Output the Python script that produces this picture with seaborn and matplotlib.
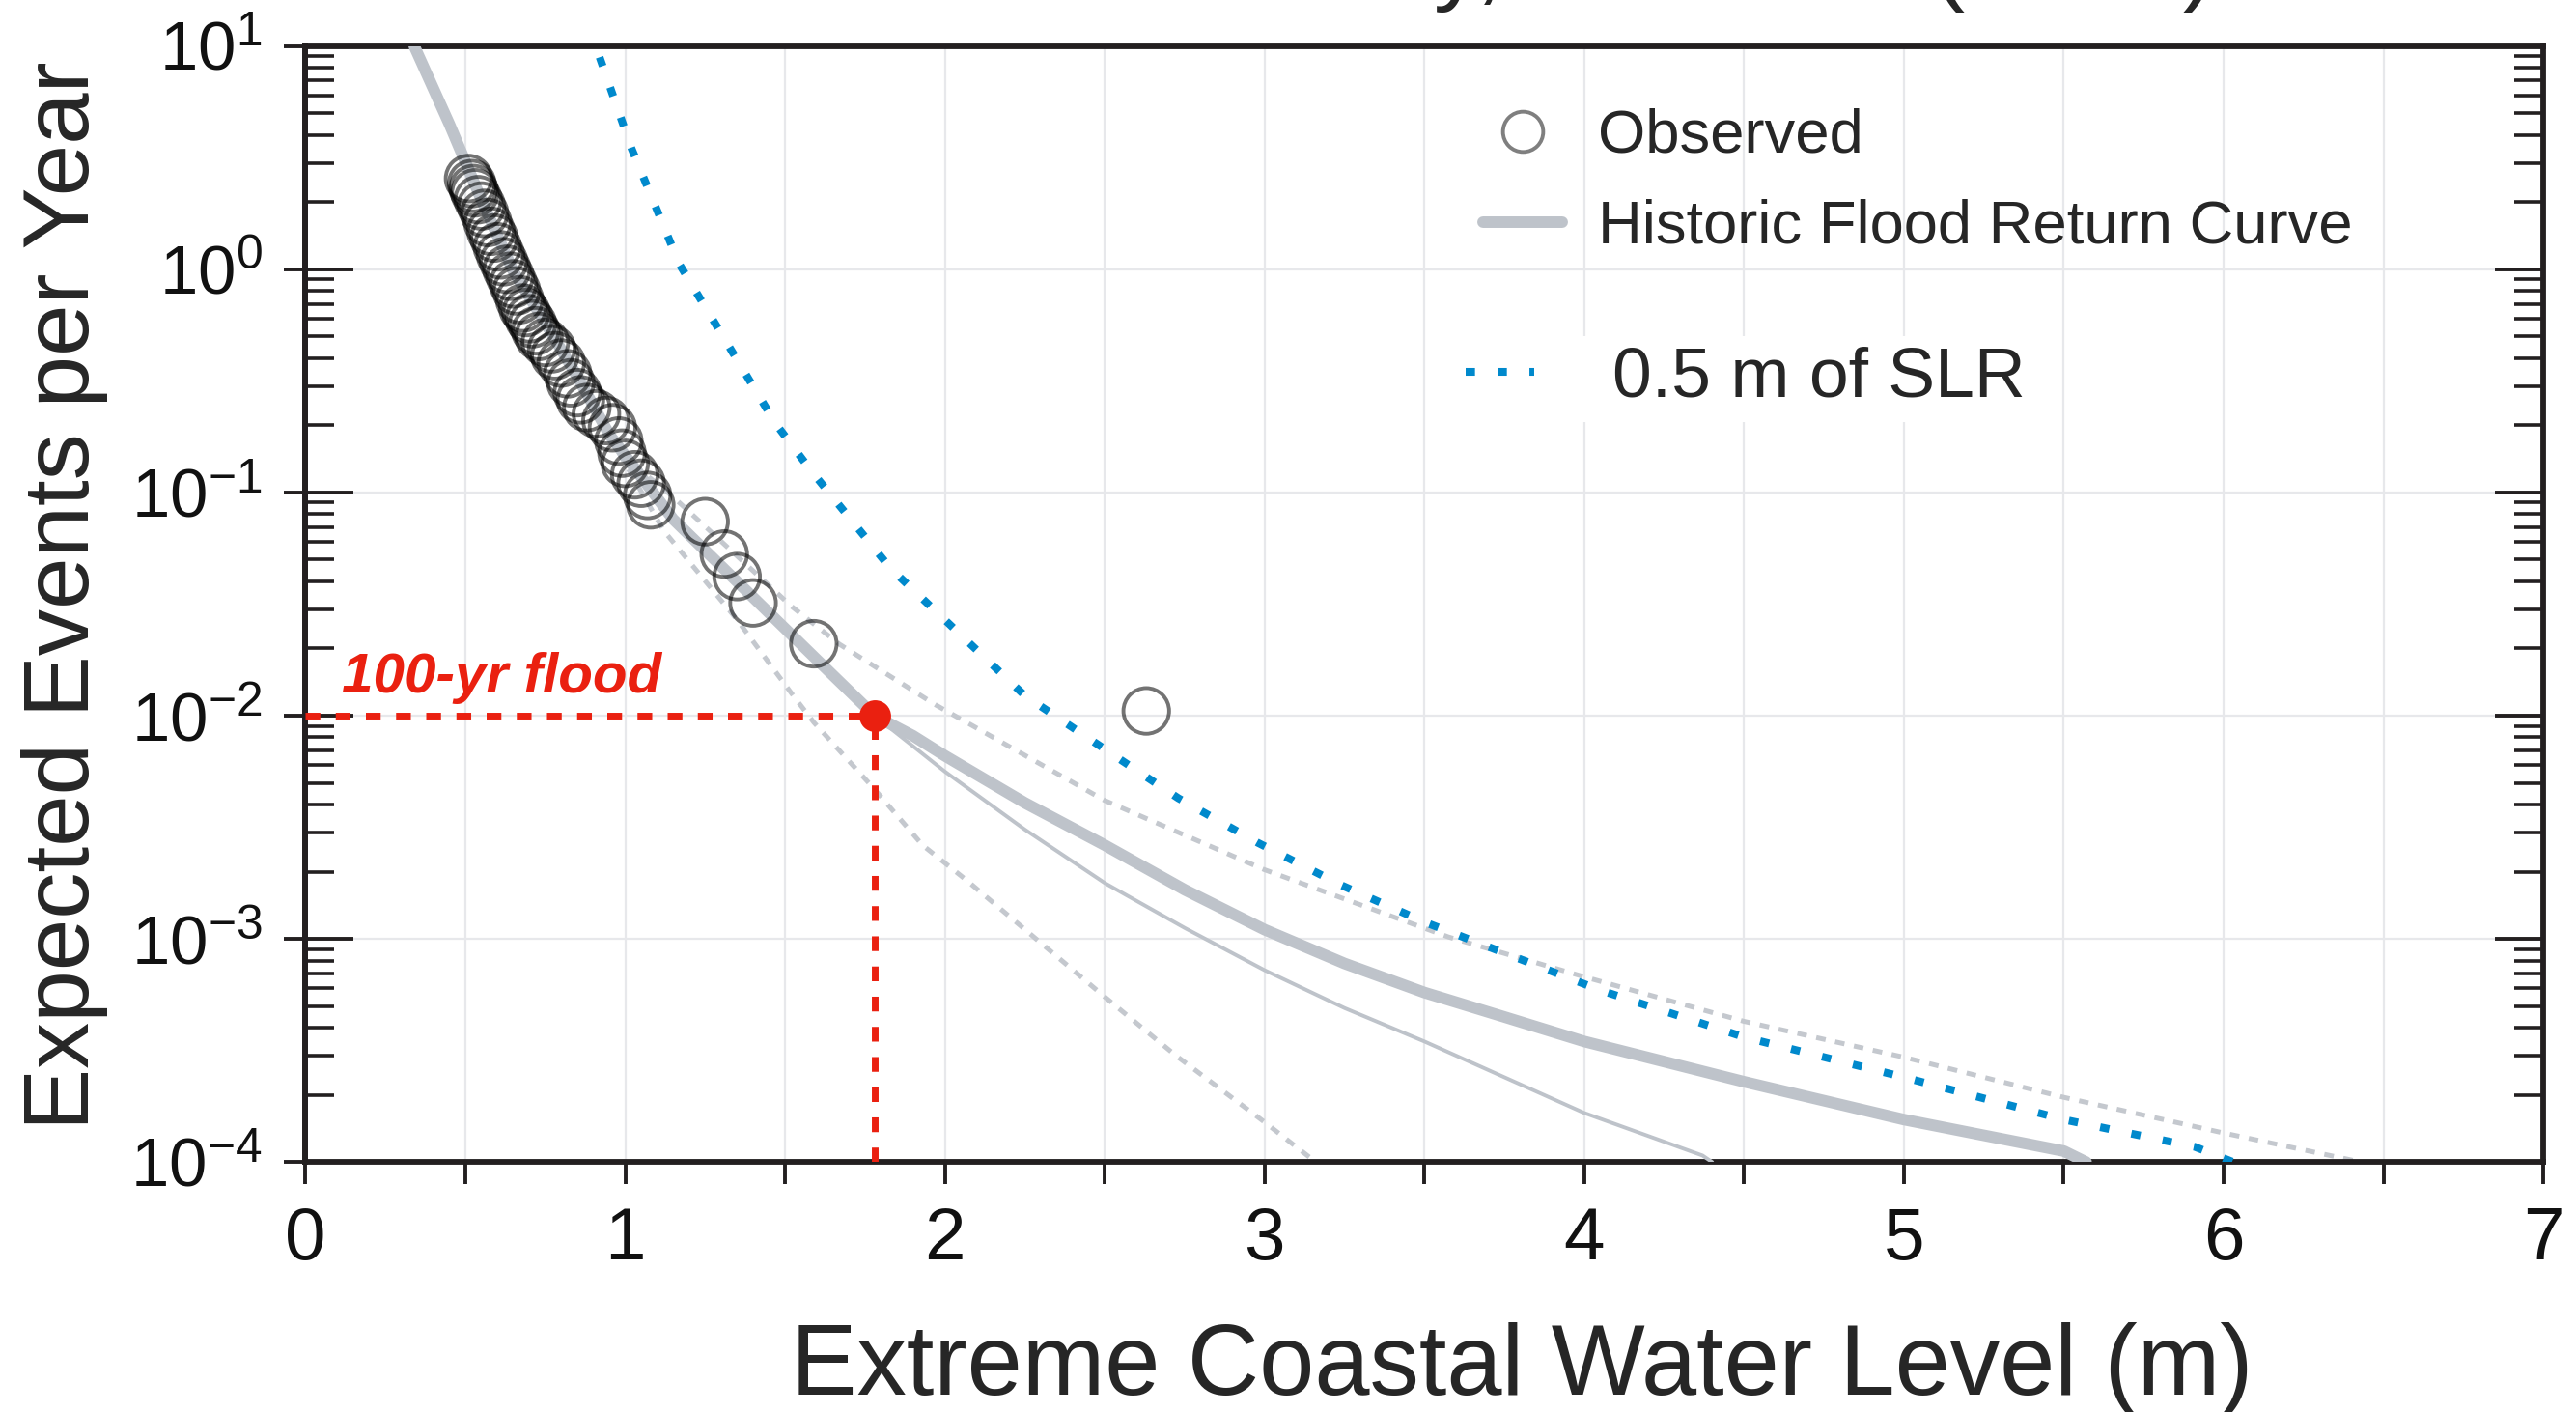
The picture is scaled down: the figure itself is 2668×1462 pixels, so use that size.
import numpy as np
import matplotlib
matplotlib.use("Agg")
import matplotlib.pyplot as plt
import seaborn as sns
from matplotlib.lines import Line2D
from matplotlib.ticker import FixedLocator, FuncFormatter, LogLocator, NullLocator

# observed extreme water levels (m) and their empirical frequency (events / yr)
obs_level = [0.51, 0.52, 0.525, 0.53, 0.54, 0.55, 0.56, 0.57, 0.58, 0.59,
             0.60, 0.61, 0.62, 0.63, 0.64, 0.65, 0.66, 0.67, 0.68, 0.69,
             0.70, 0.71, 0.72, 0.73, 0.75, 0.77, 0.78, 0.80, 0.82, 0.83,
             0.85, 0.86, 0.88, 0.91, 0.94, 0.96, 0.98, 0.99, 1.00, 1.03,
             1.05, 1.07, 1.08, 1.25, 1.31, 1.35, 1.40, 1.59, 2.63]
obs_freq = [2.55, 2.42, 2.30, 2.20, 2.05, 1.92, 1.78, 1.62, 1.48, 1.38,
            1.26, 1.16, 1.08, 1.00, 0.93, 0.86, 0.80, 0.73, 0.67, 0.64,
            0.60, 0.57, 0.53, 0.50, 0.47, 0.44, 0.41, 0.38, 0.34, 0.31,
            0.28, 0.26, 0.24, 0.225, 0.21, 0.195, 0.17, 0.15, 0.135, 0.12,
            0.11, 0.097, 0.088, 0.074, 0.053, 0.042, 0.032, 0.021, 0.0105]

# historic flood return curve (thick)
hist_level = [0.34, 0.45, 0.55, 0.65, 0.75, 0.85, 0.95, 1.05, 1.15, 1.25,
              1.40, 1.60, 1.78, 1.90, 2.00, 2.25, 2.50, 2.75, 3.00, 3.25,
              3.50, 3.75, 4.00, 4.50, 5.00, 5.50, 5.57]
hist_freq = [10.0, 4.47, 2.05, 0.98, 0.575, 0.331, 0.182, 0.1175, 0.0759, 0.055,
             0.0339, 0.0178, 0.010, 0.00813, 0.00661, 0.00407, 0.00263, 0.00166, 0.0011, 0.000776,
             0.000575, 0.000447, 0.000347, 0.000229, 0.000155, 0.000112, 0.0001]

# thin solid branch below the return curve
thin_level = [1.78, 2.00, 2.25, 2.50, 2.75, 3.00, 3.25, 3.50, 4.00, 4.37, 4.40]
thin_freq = [0.010, 0.00562, 0.00309, 0.00178, 0.00112, 0.000724, 0.00049, 0.000347,
             0.000166, 0.000107, 0.0001]

# upper / lower dashed bounds
upper_level = [0.98, 1.15, 1.52, 1.67, 1.97, 2.50, 3.00, 3.575, 4.00, 4.50, 5.00, 5.50, 6.00, 6.43]
upper_freq = [0.151, 0.0955, 0.0309, 0.0209, 0.0112, 0.00417, 0.00204, 0.00102, 0.000676,
              0.000427, 0.000295, 0.000195, 0.000135, 0.0001]
lower_level = [0.98, 1.12, 1.35, 1.52, 1.59, 1.78, 1.93, 2.07, 2.50, 2.72, 3.00, 3.16]
lower_freq = [0.151, 0.0676, 0.0269, 0.0126, 0.00933, 0.00468, 0.00263, 0.00182,
              0.00055, 0.000302, 0.000151, 0.0001]

# return curve with 0.5 m of sea level rise
slr_level = [0.92, 1.02, 1.17, 1.47, 1.58, 1.83, 1.97, 2.25, 2.49, 2.73,
             2.98, 3.24, 3.50, 3.78, 4.05, 4.50, 5.00, 5.50, 5.91, 6.03]
slr_freq = [8.91, 3.47, 1.05, 0.204, 0.126, 0.0457, 0.0295, 0.0123, 0.00724, 0.00427,
            0.00269, 0.00174, 0.00119, 0.000832, 0.000589, 0.000363, 0.00024, 0.000155, 0.000117, 0.0001]

# 100-yr flood marker
flood_level = 1.78
flood_freq = 0.01

GRAY = "#BEC3CA"
DASH_GRAY = "#C4C8CE"
BLUE = "#0089CC"
RED = "#EA2010"
INK = "#231F20"

sns.set_style("white")
plt.rcParams["font.family"] = ["Liberation Sans", "DejaVu Sans"]
plt.rcParams["axes.unicode_minus"] = True

fig = plt.figure(figsize=(13.34, 7.31), dpi=200)
ax = fig.add_axes([0.1186, 0.1770, 0.8687, 0.7904])
ax.set_yscale("log")
ax.set_xlim(0, 7)
ax.set_ylim(1e-4, 10)

# curves
sns.lineplot(x=lower_level, y=lower_freq, ax=ax, color=DASH_GRAY, lw=1.8,
             linestyle=(0, (2, 2)), estimator=None, sort=False, zorder=2)
sns.lineplot(x=upper_level, y=upper_freq, ax=ax, color=DASH_GRAY, lw=1.8,
             linestyle=(0, (2, 2)), estimator=None, sort=False, zorder=2)
sns.lineplot(x=thin_level, y=thin_freq, ax=ax, color=GRAY, lw=1.4,
             estimator=None, sort=False, zorder=3)
sns.lineplot(x=hist_level, y=hist_freq, ax=ax, color=GRAY, lw=4.3,
             estimator=None, sort=False, zorder=3)
sns.lineplot(x=slr_level, y=slr_freq, ax=ax, color=BLUE, lw=2.9,
             linestyle=(0, (1.2, 2.9)), estimator=None, sort=False, zorder=4)

# 100-yr flood guide lines
ax.plot([0, flood_level], [flood_freq, flood_freq], color=RED, lw=2.5,
        linestyle=(0, (2.2, 2.3)), zorder=5)
ax.plot([flood_level, flood_level], [1e-4, flood_freq], color=RED, lw=2.5,
        linestyle=(0, (2.2, 2.3)), zorder=5)

sns.scatterplot(x=obs_level, y=obs_freq, ax=ax, s=290, facecolor="none",
                edgecolor=(0, 0, 0, 0.55), linewidth=1.4, zorder=6)
ax.scatter([flood_level], [flood_freq], s=140, color=RED, zorder=7, linewidths=0)

ax.text(0.113, 0.01274, "100-yr flood", color=RED, fontsize=21,
        fontweight="bold", fontstyle="italic", va="baseline", zorder=8)

# axes styling
for sp in ax.spines.values():
    sp.set_visible(True)
    sp.set_color(INK)
    sp.set_linewidth(2.1)

ax.xaxis.set_major_locator(FixedLocator(np.arange(0, 7.01, 0.5)))
ax.xaxis.set_major_formatter(FuncFormatter(lambda v, p: f"{v:g}" if float(v).is_integer() else ""))
ax.xaxis.set_minor_locator(NullLocator())
ax.yaxis.set_major_locator(LogLocator(base=10, numticks=10))
ax.yaxis.set_minor_locator(LogLocator(base=10, subs=np.arange(2, 10), numticks=10))

ax.tick_params(axis="x", which="major", direction="out", length=8.3, width=1.4,
               pad=8, labelsize=27.5, bottom=True, top=False, color=INK, labelcolor="#111111")
ax.tick_params(axis="y", which="major", direction="in", length=18, width=1.4,
               pad=16, labelsize=25.5, left=True, right=True, color=INK, labelcolor="#111111")
ax.tick_params(axis="y", which="minor", direction="in", length=10.8, width=1.3,
               left=True, right=True, color=INK)

# short outward stubs on the left decade ticks
sec = ax.secondary_yaxis("left")
sec.yaxis.set_major_locator(LogLocator(base=10, numticks=10))
sec.yaxis.set_minor_locator(NullLocator())
sec.tick_params(axis="y", which="major", direction="out", length=8, width=1.4,
                labelleft=False, color=INK)
sec.spines["left"].set_color(INK)
sec.spines["left"].set_linewidth(2.1)

ax.grid(True, axis="x", which="major", color="#E7E8EB", lw=0.8)
ax.grid(True, axis="y", which="major", color="#E7E8EB", lw=0.8)
ax.set_axisbelow(True)

ax.set_xlabel("Extreme Coastal Water Level (m)", fontsize=37)
ax.xaxis.set_label_coords(0.5435, -0.1434)
ax.set_ylabel("Expected Events per Year", fontsize=34.6)
ax.yaxis.set_label_coords(-0.0882, 0.5074)

# title, cropped by the top edge as in the source figure
fig.text(0.263, 1.0055, "Storm Tide History, Montauk (1947)", fontsize=36.5,
         ha="left", va="baseline")

# legends
h_obs = Line2D([], [], ls="none", marker="o", ms=15, mfc="none",
               mec=(0, 0, 0, 0.5), mew=1.4)
h_hist = Line2D([], [], color=GRAY, lw=4.3)
leg1 = ax.legend([h_obs, h_hist], ["Observed", "Historic Flood Return Curve"],
                 loc="upper left", bbox_to_anchor=(0.5757, 0.9235),
                 bbox_transform=fig.transFigure, frameon=False, fontsize=22.8,
                 handlelength=1.3, handletextpad=0.58, labelspacing=0.55,
                 borderpad=0, borderaxespad=0)
ax.add_artist(leg1)

h_slr = Line2D([], [], color=BLUE, lw=2.9, linestyle=(0, (1.2, 2.9)))
leg2 = ax.legend([h_slr], ["0.5 m of SLR"], loc="upper left",
                 bbox_to_anchor=(0.5648, 0.7623), bbox_transform=fig.transFigure,
                 frameon=True, facecolor="white", edgecolor="none", framealpha=1,
                 fancybox=False, fontsize=26.4, handlelength=0.97, handletextpad=1.1,
                 borderpad=0.15, borderaxespad=0)
leg2.set_zorder(9)

fig.savefig("out.png", dpi=200)
